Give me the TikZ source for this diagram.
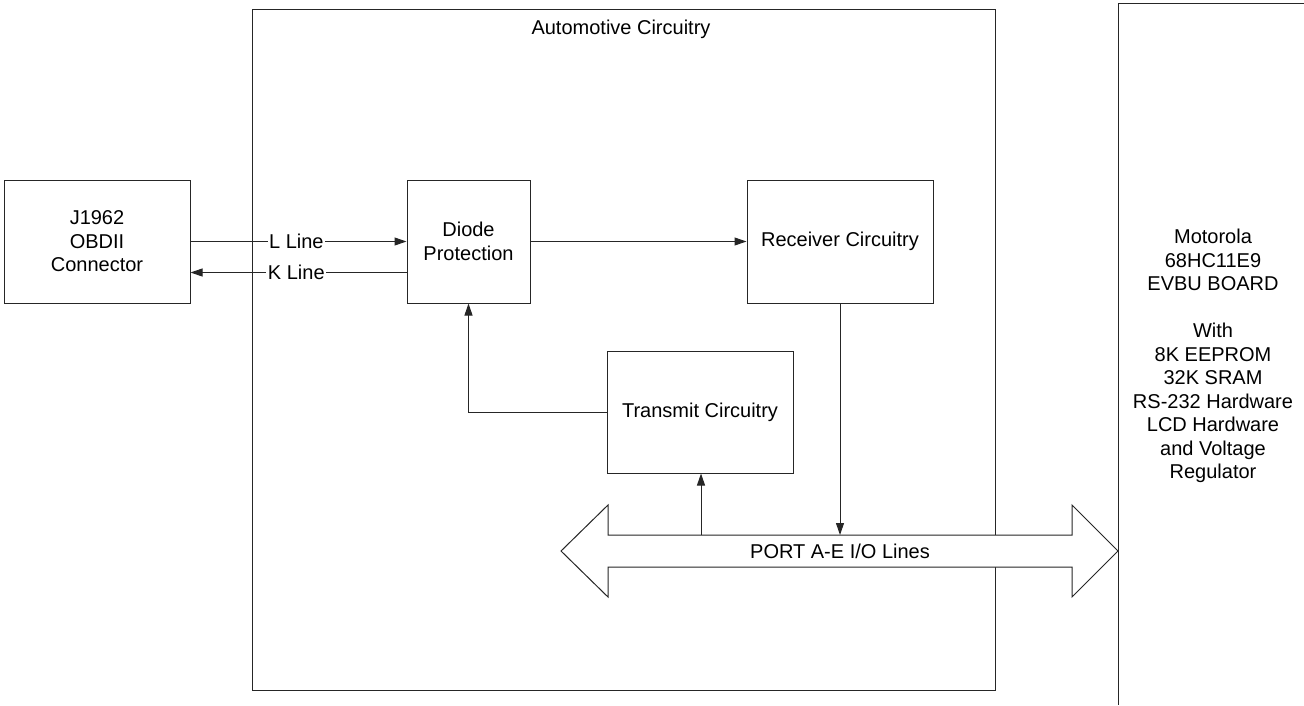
\documentclass[tikz,border=0pt]{standalone}
\usepackage{fontspec}
\setmainfont{Liberation Sans}
\usetikzlibrary{arrows.meta}
\begin{document}
\begin{tikzpicture}[x=1pt,y=-1pt,
  every node/.style={font=\fontsize{20}{23.5}\selectfont},
  blk/.style={draw=black!85,line width=1pt,minimum width=186pt,minimum height=123pt,align=center,inner sep=0pt},
  conn/.style={draw=black!85,line width=1pt},
  arr/.style={conn,-{Triangle[length=12pt,width=8pt]}},
  lbl/.style={fill=white,inner sep=1.5pt}]
\useasboundingbox (0,0) rectangle (1304,705);
% automotive frame
\node[draw=black!85,line width=1pt,minimum width=743pt,minimum height=681pt,inner sep=0pt] (auto) at (623.5,349.5) {};
\node (autolbl) at (621,29) {Automotive Circuitry};
% blocks
\node[blk] (j) at (97,241.5) {J1962\\OBDII\\Connector};
\node[blk,minimum width=123pt] (dp) at (468.5,241.5) {Diode\\Protection};
\node[blk] (rec) at (840,241.5) {Receiver Circuitry};
\node[blk,minimum height=122pt] (tx) at (700,412) {Transmit Circuitry};
% board
\coordinate (mtop) at (1304,3);
\coordinate (mcorner) at (1118,3);
\coordinate (mbot) at (1118,705);
\draw[conn] (mtop) -- (mcorner) -- (mbot);
\node[align=center] (mot) at (1213,356) {Motorola\\68HC11E9\\EVBU BOARD\\[23.5pt]With\\8K EEPROM\\32K SRAM\\RS-232 Hardware\\LCD Hardware\\and Voltage\\Regulator};
% bus
\coordinate (busL) at (561,551);
\coordinate (busR) at (1118,551);
\coordinate (busT) at (0,535);
\draw[conn,fill=white] (busL) -- (608,505) -- (608,535) -- (1072,535) -- (1072,505) -- (busR)
  -- (1072,597) -- (1072,567) -- (608,567) -- (608,597) -- cycle;
\node (buslbl) at (840,551) {PORT A-E I/O Lines};
% connectors
\draw[arr] (j.east) -- node[lbl,pos=0.49] (ll) {L Line} (dp.west);
\draw[arr] ([yshift=-31pt]dp.west) -- node[lbl,pos=0.51] (kl) {K Line} ([yshift=-31pt]j.east);
\draw[arr] (dp.east) -- (rec.west);
\draw[arr] (rec.south) -- (rec.south |- busT);
\draw[arr] ([xshift=1pt]tx.south |- busT) -- ([xshift=1pt]tx.south);
\draw[arr] (tx.west) -| (dp.south);
\end{tikzpicture}
\end{document}
